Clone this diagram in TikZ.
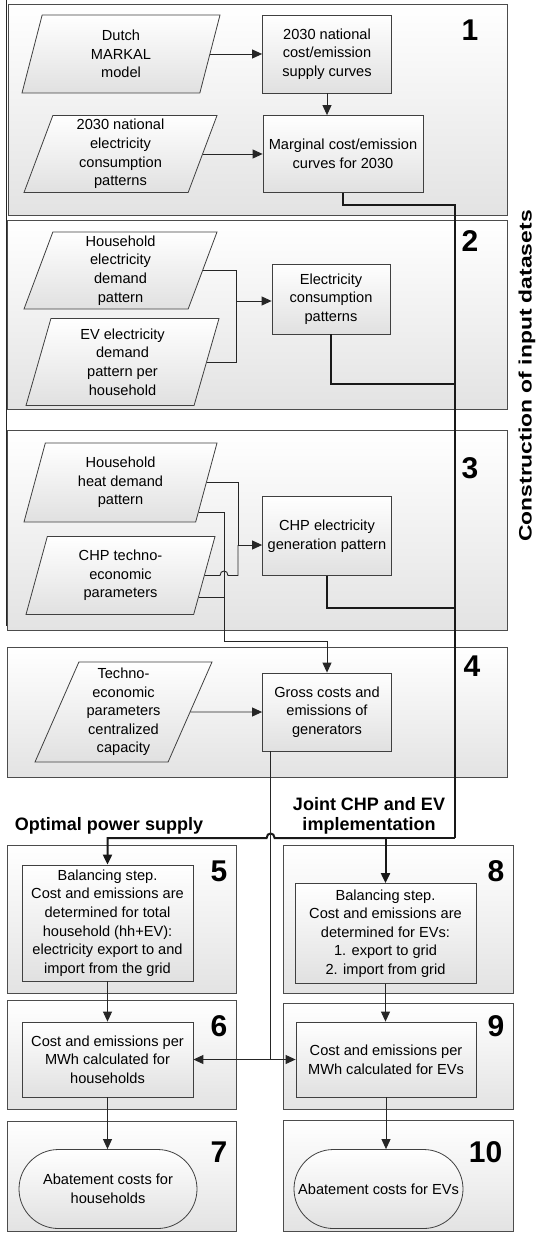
\documentclass[tikz,border=0pt]{standalone}
\usepackage{fontspec}
\setmainfont{Liberation Sans}
\usepackage{graphicx}
\usetikzlibrary{arrows.meta,calc,positioning,shapes.geometric,shapes.misc}

\tikzset{
  panel/.style={draw=black!70, line width=0.9pt, top color=white, bottom color=black!11},
  proc/.style={draw=black!75, line width=0.8pt, top color=white, bottom color=black!12, align=center, inner sep=1pt},
  dat/.style={trapezium, trapezium left angle=68, trapezium right angle=112, trapezium stretches body,
    draw=black!75, line width=0.8pt, top color=white, bottom color=black!12, align=center, inner sep=1pt, minimum height=#1},
  dat/.default=78pt,
  term/.style={rounded rectangle, draw=black!75, line width=0.8pt, top color=white, bottom color=black!12, align=center, inner sep=1pt},
  num/.style={font=\fontsize{30}{30}\selectfont\bfseries},
  ttl/.style={font=\fontsize{18}{20.5}\selectfont\bfseries, align=center},
  link/.style={line width=0.9pt, draw=black!85},
  bus/.style={line width=2pt, draw=black!90},
  arr/.style={-{Stealth[length=10pt,width=9pt,inset=0pt]}},
  arr2/.style={{Stealth[length=10pt,width=9pt,inset=0pt]}-{Stealth[length=10pt,width=9pt,inset=0pt]}},
}

\begin{document}
\begin{tikzpicture}[x=1pt, y=-1pt, font=\fontsize{14.6}{18.6}\selectfont]
\useasboundingbox (0,0) rectangle (536,1233);

% panels
\draw[panel] (8.5,4) rectangle (507,215);
\draw[panel] (7.5,220) rectangle (507,409);
\draw[panel] (7.5,430.5) rectangle (507,630.5);
\draw[panel] (7.5,647) rectangle (507,777.5);
\draw[panel] (7.5,845) rectangle (236,993);
\draw[panel] (283,845) rectangle (513,993);
\draw[panel] (7.5,1000) rectangle (236,1109.6);
\draw[panel] (283,1003) rectangle (513,1109.6);
\draw[panel] (7.5,1121) rectangle (236,1231);
\draw[panel] (283,1120) rectangle (513,1231);
\draw[link] (6.5,0) -- (6.5,626);

% 1
\node[dat, minimum width=198pt] (mkl) at (121,54) {Dutch\\MARKAL\\model};
\node[proc, minimum width=129pt, minimum height=78pt] (supc) at (327,54) {2030 national\\cost/emission\\supply curves};
\node[dat=77pt, minimum width=193pt] (ncp) at (120.5,154) {2030 national\\electricity\\consumption\\patterns};
\node[proc, minimum width=160pt, minimum height=77pt] (mcc) at (343,154) {Marginal cost/emission\\curves for 2030};
\node[num] (n1) at (470,30) {1};
\draw[link,arr] (mkl.east) -- (mkl.east -| supc.west);
\draw[link,arr] (supc.south) -- (mcc.north -| supc.south);
\draw[link,arr] (ncp.east) -- (ncp.east -| mcc.west);

% 2
\node[dat=77pt, minimum width=193pt] (hed) at (120.5,270.5) {Household\\electricity\\demand\\pattern};
\node[dat=87pt, minimum width=193pt, trapezium left angle=70, trapezium right angle=110] (evd) at (122.5,362) {EV electricity\\demand\\pattern per\\household};
\node[proc, minimum width=118pt, minimum height=70pt] (ecp) at (331,299) {Electricity\\consumption\\patterns};
\node[num] (n2) at (470,241) {2};
\coordinate (j2) at (236,301);
\draw[link] (hed.east) -| (j2);
\draw[link] (evd.east) -| (j2);
\draw[link,arr] (j2) -- (j2 -| ecp.west);

% 3
\node[dat=79pt, minimum width=193pt] (hhd) at (120.5,482.5) {Household\\heat demand\\pattern};
\node[dat=78pt, minimum width=189pt] (chpt) at (120.5,575.5) {CHP techno-\\economic\\parameters};
\node[proc, minimum width=129pt, minimum height=79pt] (chp) at (327,536) {CHP electricity\\generation pattern};
\node[num] (n3) at (470,468) {3};
\coordinate (j3) at (238,545);
\coordinate (v3) at (224,641);
\coordinate (hhd2) at ($(hhd.bottom right corner)!0.12!(hhd.top right corner)$);
\coordinate (chpt2) at ($(chpt.bottom right corner)!0.22!(chpt.top right corner)$);
\draw[link] (hhd.east) -| (j3);
\draw[link] (chpt.east) -- ([xshift=-4pt]chpt.east -| v3) .. controls +(0,-6) and +(0,-6) .. ([xshift=4pt]chpt.east -| v3) -| (j3);
\draw[link,arr] (j3) -- (j3 -| chp.west);
\draw[link] (chpt2) -- (chpt2 -| v3);

% 4
\node[dat=100pt, minimum width=177pt, trapezium left angle=64, trapezium right angle=116] (tec) at (123.5,712) {Techno-\\economic\\parameters\\centralized\\capacity};
\node[proc, minimum width=129pt, minimum height=78pt] (gce) at (327,712) {Gross costs and\\emissions of\\generators};
\node[num] (n4) at (472,666) {4};
\draw[link,arr] (tec.east) -- (gce.west);
\draw[link,arr] (hhd2) -- (hhd2 -| v3) -- (v3) -| (gce.north);
\coordinate (gx) at ([xshift=8.5pt]gce.south west);

% input bus
\coordinate (b1) at (455,205);
\coordinate (b2) at (455,384);
\coordinate (b3) at (455,608);
\coordinate (bj) at (455,838);
\draw[bus] (mcc.south) |- (b1) -- (bj);
\draw[bus] (ecp.south) |- (b2);
\draw[bus] (chp.south) |- (b3);

% labels
\node[ttl] (opt) at (109,826) {Optimal power supply};
\node[ttl] (joint) at (369,816) {Joint CHP and EV\\implementation};
\node[rotate=90, font=\fontsize{18}{18}\selectfont\bfseries] (cid) at (527,376) {\scalebox{1.27}[1]{Construction of input datasets}};

% 5-10
\node[proc, minimum width=171pt, minimum height=116pt] (bal5) at (107.5,923) {Balancing step.\\Cost and emissions are\\determined for total\\household (hh+EV):\\electricity export to and\\import from the grid};
\node[proc, minimum width=181pt, minimum height=100pt] (bal8) at (385.5,933.5) {Balancing step.\\Cost and emissions are\\determined for EVs:\\1. export to grid\\2. import from grid};
\node[proc, minimum width=171pt, minimum height=75pt] (hh6) at (107.5,1059.5) {Cost and emissions per\\MWh calculated for\\households};
\node[proc, minimum width=180pt, minimum height=75pt] (ev9) at (386,1059.5) {Cost and emissions per\\MWh calculated for EVs};
\node[term, minimum width=180pt, minimum height=79pt] (ab7) at (108,1189) {Abatement costs for\\households};
\node[term, minimum width=171pt, minimum height=79pt] (ab10) at (378.5,1189) {Abatement costs for EVs};
\node[num] (n5) at (219,871) {5};
\node[num] (n6) at (219,1026) {6};
\node[num] (n7) at (219,1152) {7};
\node[num] (n8) at (496,871) {8};
\node[num] (n9) at (496,1026) {9};
\node[num] (n10) at (485.5,1152) {10};

\draw[bus,arr] (bj) -| (bal8.north);
\draw[bus,arr] (bal8.north |- bj) -- ([xshift=4pt]gx |- bj) .. controls +(0,-6) and +(0,-6) .. ([xshift=-4pt]gx |- bj) -| (bal5.north);
\draw[link] (gx) -- (gx |- hh6.east);
\draw[link,arr2] (hh6.east) -- (ev9.west);
\draw[link,arr] (bal5.south) -- (bal5.south |- hh6.north);
\draw[link,arr] (hh6.south) -- (hh6.south |- ab7.north);
\draw[link,arr] (bal8.south) -- (bal8.south |- ev9.north);
\draw[link,arr] (ev9.south) -- (ev9.south |- ab10.north);
\end{tikzpicture}
\end{document}
